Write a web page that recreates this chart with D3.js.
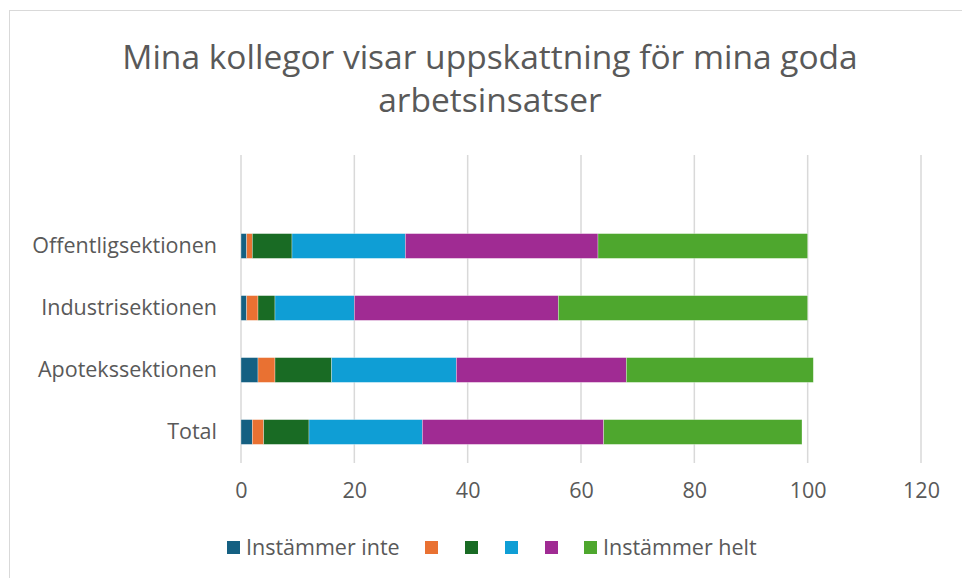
<!DOCTYPE html>
<html>
<head>
<meta charset="utf-8">
<script src="https://cdn.jsdelivr.net/npm/d3@7"></script>
<style>
  body { margin: 0; background: #fff; }
  text { font-family: "Open Sans", sans-serif; fill: #595959; }
</style>
</head>
<body>
<svg width="962" height="578"></svg>
<script>
// Data
var categories = ["Offentligsektionen", "Industrisektionen", "Apotekssektionen", "Total"];
var seriesNames = ["Instämmer inte", "", "", "", "", "Instämmer helt"];
var seriesColors = ["#156082", "#E97132", "#196B24", "#0F9ED5", "#A02B93", "#4EA72E"];
// values per series, in category order
var s1 = [1, 1, 3, 2],
	s2 = [1, 2, 3, 2],
	s3 = [7, 3, 10, 8],
	s4 = [20, 14, 22, 20],
	s5 = [34, 36, 30, 32],
	s6 = [37, 44, 33, 35];
var xTicks = [0, 20, 40, 60, 80, 100, 120];
var titleLines = ["Mina kollegor visar uppskattning för mina goda", "arbetsinsatser"];

var series = [s1, s2, s3, s4, s5, s6];

var svg = d3.select("svg");
var w = +svg.attr("width"),
	h = +svg.attr("height");

// chart frame
svg.append("rect")
	.attr("x", 9.5).attr("y", 10.5)
	.attr("width", w + 20).attr("height", h + 20)
	.attr("fill", "#fff")
	.attr("stroke", "#d9d9d9")
	.attr("stroke-width", 1);

// Title
svg.append("g").selectAll("text")
	.data(titleLines).enter()
	.append("text")
	.attr("x", 490)
	.attr("y", function(d, i) { return 69 + i * 43; })
	.attr("text-anchor", "middle")
	.attr("font-size", 33.5)
	.text(function(d) { return d; });

// Scales
var plotTop = 155, plotBottom = 463;
var x = d3.scaleLinear().domain([0, 120]).range([241, 921]);
var y = d3.scaleBand()
	.domain(categories.slice().reverse())
	.range([plotBottom, plotBottom - 62 * categories.length])
	.paddingInner(0.6)
	.paddingOuter(0.3);

// Gridlines
svg.append("g").selectAll("line")
	.data(xTicks).enter()
	.append("line")
	.attr("x1", function(d) { return x(d); })
	.attr("x2", function(d) { return x(d); })
	.attr("y1", plotTop)
	.attr("y2", plotBottom)
	.attr("stroke", "#d9d9d9")
	.attr("stroke-width", 1.5);

// Stack
var rows = categories.map(function(c, i) {
	var r = { cat: c };
	series.forEach(function(s, k) { r["k" + k] = s[i]; });
	return r;
});
var stacked = d3.stack().keys(series.map(function(_, k) { return "k" + k; }))(rows);

var layer = svg.append("g").selectAll("g")
	.data(stacked).enter()
	.append("g")
	.attr("fill", function(d, k) { return seriesColors[k]; });

layer.selectAll("rect")
	.data(function(d) { return d; }).enter()
	.append("rect")
	.attr("x", function(d) { return x(d[0]); })
	.attr("width", function(d) { return x(d[1]) - x(d[0]); })
	.attr("y", function(d) { return y(d.data.cat); })
	.attr("height", y.bandwidth())
	.attr("stroke", "#fff")
	.attr("stroke-opacity", 0.45)
	.attr("stroke-width", 0.7);

// X axis labels
var xAxis = svg.append("g")
	.attr("transform", "translate(0," + (plotBottom + 12) + ")")
	.call(d3.axisBottom(x).tickValues(xTicks).tickSize(0).tickPadding(8));
xAxis.select(".domain").remove();
xAxis.selectAll("text").attr("font-size", 21.5).attr("fill", "#595959")
	.style("font-family", "\"Open Sans\", sans-serif");

// Y axis labels
var yAxis = svg.append("g")
	.attr("transform", "translate(227,0)")
	.call(d3.axisLeft(y).tickSize(0).tickPadding(10));
yAxis.select(".domain").remove();
yAxis.selectAll("text").attr("font-size", 21.5).attr("fill", "#595959")
	.style("font-family", "\"Open Sans\", sans-serif");

// Legend
var legendX = [227, 425, 465, 505, 545, 584];
var legend = svg.append("g").selectAll("g")
	.data(seriesNames).enter()
	.append("g")
	.attr("transform", function(d, i) { return "translate(" + legendX[i] + ",541)"; });
legend.append("rect")
	.attr("width", 13).attr("height", 13)
	.attr("fill", function(d, i) { return seriesColors[i]; });
legend.append("text")
	.attr("x", 19).attr("y", 14)
	.attr("font-size", 21.5)
	.text(function(d) { return d; });
</script>
</body>
</html>
